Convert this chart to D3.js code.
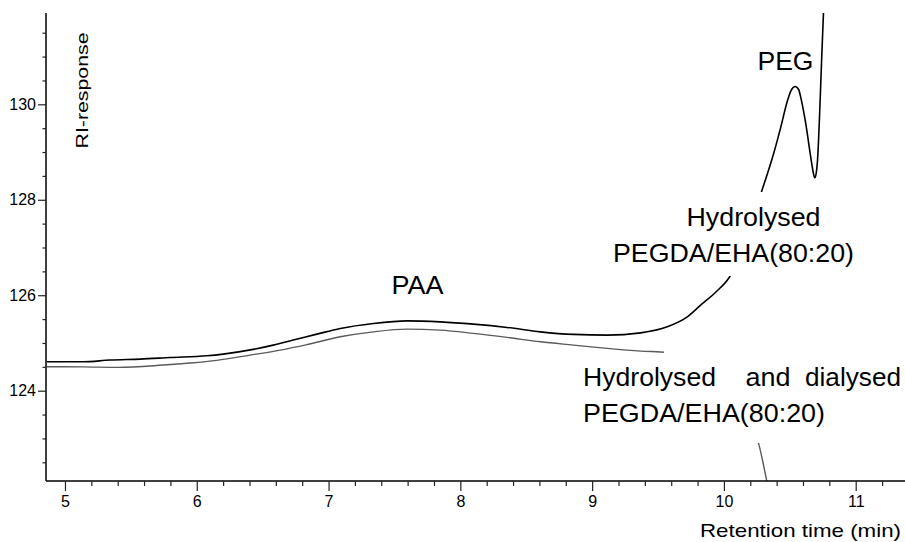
<!DOCTYPE html>
<html>
<head>
<meta charset="utf-8">
<script src="https://cdn.jsdelivr.net/npm/d3@7"></script>
<style>
  html, body { margin: 0; padding: 0; background: #fff; }
  svg { display: block; font-family: "Liberation Sans", Arial, sans-serif; }
</style>
</head>
<body>
<svg id="chart" width="905" height="542"></svg>
<script>
// ---- Data ----
// Hydrolysed PEGDA/EHA(80:20)  (black trace)
const hydrolysedTime = [4.861, 5.139, 5.342, 5.570, 5.798, 6.076, 6.200, 6.428, 6.580, 6.732, 6.912, 7.089, 7.340, 7.596, 7.848, 8.099, 8.355, 8.608, 8.859, 9.115, 9.368, 9.570, 9.722, 9.823, 9.937, 10.036, 10.127, 10.218, 10.286, 10.330, 10.380, 10.431, 10.482, 10.511, 10.540, 10.568, 10.583, 10.621, 10.659, 10.678, 10.689, 10.701, 10.710, 10.730, 10.742, 10.755, 10.765];
const hydrolysedRI   = [124.606, 124.606, 124.642, 124.662, 124.694, 124.731, 124.767, 124.865, 124.955, 125.060, 125.185, 125.304, 125.409, 125.463, 125.442, 125.394, 125.325, 125.233, 125.179, 125.164, 125.212, 125.338, 125.546, 125.791, 126.063, 126.355, 126.836, 127.526, 128.173, 128.543, 128.995, 129.517, 130.075, 130.295, 130.374, 130.305, 130.144, 129.595, 128.890, 128.571, 128.460, 128.571, 128.821, 130.075, 130.980, 131.887, 132.580];

// Hydrolysed and dialysed PEGDA/EHA(80:20)  (grey trace)
const dialysedTime = [4.861, 5.137, 5.403, 5.744, 5.949, 6.152, 6.405, 6.633, 6.836, 7.089, 7.340, 7.596, 7.848, 8.099, 8.355, 8.608, 8.859, 9.115, 9.368, 9.570, 9.785, 9.975, 10.165, 10.266, 10.325, 10.370];
const dialysedRI   = [124.502, 124.499, 124.489, 124.537, 124.579, 124.635, 124.746, 124.851, 124.966, 125.129, 125.233, 125.289, 125.268, 125.200, 125.116, 125.024, 124.955, 124.886, 124.830, 124.802, 124.600, 124.120, 123.490, 122.865, 122.110, 121.500];

// Axis ticks
const xMajorTicks = [5, 6, 7, 8, 9, 10, 11];
const yMajorTicks = [124, 126, 128, 130];
const xDomain = [4.856, 11.374];
const yDomain = [122.108, 131.913];

// Text
const xAxisTitle = "Retention time (min)";
const yAxisTitle = "RI-response";

// ---- Drawing ----
(function () {
const svg = d3.select("#chart");
const pL = 46, pR = 905, pT = 13, pB = 481;

const x = d3.scaleLinear().domain(xDomain).range([pL, pR]);
const y = d3.scaleLinear().domain(yDomain).range([pB, pT]);

svg.append("defs").append("clipPath").attr("id", "plotClip")
  .append("rect").attr("x", pL).attr("y", pT)
  .attr("width", pR - pL).attr("height", pB - pT);

const plot = svg.append("g").attr("clip-path", "url(#plotClip)");

const line = d3.line().x(d => x(d[0])).y(d => y(d[1])).curve(d3.curveMonotoneX);

plot.append("path")
  .datum(dialysedTime.map((t, i) => [t, dialysedRI[i]]))
  .attr("d", line).attr("fill", "none")
  .attr("stroke", "#5a5a5a").attr("stroke-width", 1.4);

plot.append("path")
  .datum(hydrolysedTime.map((t, i) => [t, hydrolysedRI[i]]))
  .attr("d", line).attr("fill", "none")
  .attr("stroke", "#000").attr("stroke-width", 1.6);

// label backgrounds (the reference labels mask the traces)
const bg = svg.append("g").attr("fill", "#fff");
bg.append("rect").attr("x", 610).attr("y", 192).attr("width", 250).attr("height", 84);
bg.append("rect").attr("x", 664).attr("y", 346).attr("width", 241).attr("height", 97);
bg.append("rect").attr("x", 580).attr("y", 360).attr("width", 90).attr("height", 83);

// X axis
const xMinor = d3.range(5, 11.3001, 0.2).map(v => +v.toFixed(2)).filter(v => xMajorTicks.indexOf(v) < 0);
const xAxisMajor = d3.axisBottom(x).tickValues(xMajorTicks).tickSize(10).tickPadding(5).tickFormat(d3.format("d"));
const xAxisMinor = d3.axisBottom(x).tickValues(xMinor).tickSize(5).tickFormat("");
const gx = svg.append("g").attr("transform", `translate(0,${pB})`).call(xAxisMajor);
const gxm = svg.append("g").attr("transform", `translate(0,${pB})`).call(xAxisMinor);
gxm.select(".domain").remove();
gx.select(".domain").attr("d", `M${pL},0H${pR}`).attr("stroke-width", 1.5);
gx.selectAll(".tick line").attr("stroke", "#222").attr("stroke-width", 1.2);
gxm.selectAll(".tick line").attr("stroke", "#222").attr("stroke-width", 1.2);
gx.selectAll(".tick text").attr("font-size", 16).attr("fill", "#000")
  .attr("font-family", "Liberation Sans, Arial, sans-serif");

// Y axis
const yMinor = d3.range(122.5, 131.51, 0.5).filter(v => yMajorTicks.indexOf(v) < 0);
const yAxisMajor = d3.axisLeft(y).tickValues(yMajorTicks).tickSize(8).tickPadding(2).tickFormat(d3.format("d"));
const yAxisMinor = d3.axisLeft(y).tickValues(yMinor).tickSize(3.5).tickFormat("");
const gy = svg.append("g").attr("transform", `translate(${pL},0)`).call(yAxisMajor);
const gym = svg.append("g").attr("transform", `translate(${pL},0)`).call(yAxisMinor);
gym.select(".domain").remove();
gy.select(".domain").attr("d", `M0,${pT}V${pB}`).attr("stroke-width", 1.5);
gy.selectAll(".tick line").attr("stroke", "#222").attr("stroke-width", 1.2);
gym.selectAll(".tick line").attr("stroke", "#222").attr("stroke-width", 1.2);
gy.selectAll(".tick text").attr("font-size", 16).attr("fill", "#000")
  .attr("font-family", "Liberation Sans, Arial, sans-serif");

// Axis titles
svg.append("text")
  .attr("x", 700).attr("y", 536.5)
  .attr("font-size", 19).attr("textLength", 201).attr("lengthAdjust", "spacingAndGlyphs")
  .text(xAxisTitle);

svg.append("text")
  .attr("transform", "translate(87.5,90.5) rotate(-90)")
  .attr("text-anchor", "middle")
  .attr("font-size", 16).attr("textLength", 116).attr("lengthAdjust", "spacingAndGlyphs")
  .text(yAxisTitle);

// Annotations
const ann = svg.append("g").attr("font-size", 26).attr("fill", "#000");
function label(txt, px, py, len) {
  const t = ann.append("text").attr("x", px).attr("y", py).text(txt);
  if (len) t.attr("textLength", len).attr("lengthAdjust", "spacingAndGlyphs");
  return t;
}
label("PEG", 757.5, 70, 56);
label("PAA", 391.5, 294.3, 52);
label("Hydrolysed", 686.5, 226, 134);
label("PEGDA/EHA(80:20)", 613, 261.5, 241);
label("Hydrolysed", 583, 386, 133);
label("and", 745.5, 386, 45);
label("dialysed", 805, 386, 96);
label("PEGDA/EHA(80:20)", 583, 421.7, 242);
})();
</script>
</body>
</html>
